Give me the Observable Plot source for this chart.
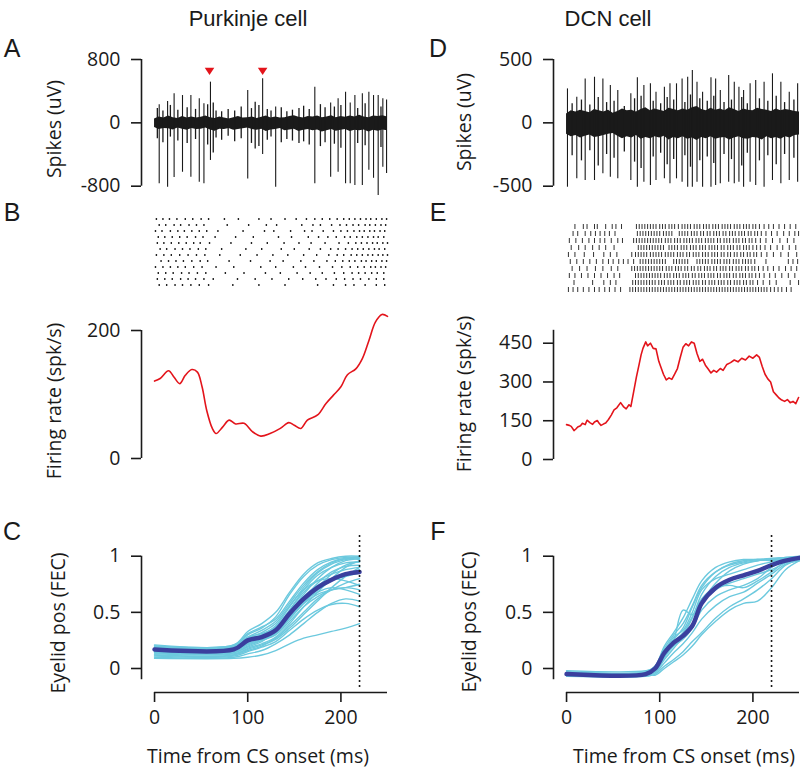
<!DOCTYPE html>
<html><head><meta charset="utf-8">
<script src="https://cdn.jsdelivr.net/npm/d3@7"></script>
<script src="https://cdn.jsdelivr.net/npm/@observablehq/plot@0.6"></script>
<style>
html,body{margin:0;padding:0;background:#fff;}
#fig{position:relative;width:800px;height:768px;overflow:hidden;font-family:"Open Sans",sans-serif;color:#1a1a1a;}
.lbl{position:absolute;font-size:19.5px;white-space:nowrap;transform:translate(-50%,-50%);}
.rot{transform:translate(-50%,-50%) rotate(-90deg);}
.title{position:absolute;font-family:"Liberation Sans",Arial,sans-serif;font-size:22px;white-space:nowrap;transform:translate(-50%,-50%);}
.letter{position:absolute;font-family:"Liberation Sans",Arial,sans-serif;font-size:25px;transform:translate(-50%,-50%);}
</style></head>
<body>
<div id="fig">
  <div class="title" style="left:248px;top:19px">Purkinje cell</div>
  <div class="title" style="left:608px;top:19px">DCN cell</div>
  <div class="letter" style="left:12px;top:48px">A</div>
  <div class="letter" style="left:12px;top:212px">B</div>
  <div class="letter" style="left:12px;top:531px">C</div>
  <div class="letter" style="left:438px;top:48px">D</div>
  <div class="letter" style="left:438px;top:212px">E</div>
  <div class="letter" style="left:438px;top:531px">F</div>
  <div class="lbl rot" style="left:53px;top:129px">Spikes (uV)</div>
  <div class="lbl rot" style="left:463px;top:122px">Spikes (uV)</div>
  <div class="lbl rot" style="left:53px;top:401px">Firing rate (spk/s)</div>
  <div class="lbl rot" style="left:463px;top:394px">Firing rate (spk/s)</div>
  <div class="lbl rot" style="left:57px;top:623px">Eyelid pos (FEC)</div>
  <div class="lbl rot" style="left:468px;top:622px">Eyelid pos (FEC)</div>
  <div class="lbl" style="left:258px;top:755px">Time from CS onset (ms)</div>
  <div class="lbl" style="left:684px;top:755px">Time from CS onset (ms)</div>
</div>
<script>
// ---------------- DATA ----------------
// Panel A: Purkinje raw trace (noise envelope + small deflections + spikes), uV
const noiseT = [0,5,10,15,20,25,30,35,40,45,50,55,60,65,70,75,80,85,90,95,100,105,110,115,120,125,130,135,140,145,150,155,160,165,170,175,180,185,190,195,200,205,210,215,220,225,230,235,240,245,250];
const noiseA_hi = [50,75,60,85,65,55,80,60,75,60,70,85,65,55,75,60,50,65,80,60,65,75,55,70,85,60,75,60,65,80,90,70,60,80,75,85,65,75,90,65,80,70,85,75,95,75,65,85,80,90,75];
const noiseA_lo = [-60,-85,-70,-75,-90,-65,-80,-95,-70,-85,-80,-65,-90,-105,-80,-85,-70,-95,-85,-75,-65,-85,-95,-80,-110,-90,-85,-70,-100,-90,-80,-110,-95,-85,-100,-90,-115,-100,-85,-105,-95,-85,-110,-95,-100,-90,-115,-95,-105,-90,-100];
const smlA_t  = [3,9,17,25,35,44,57,63,66,72,79,86,93,104,108,112,121,125,136,142,148,155,160,166,178,183,193,200,218,226,243];
const smlA_hi = [180,150,220,160,190,170,230,250,150,140,170,150,200,180,260,220,170,150,190,140,160,180,210,170,230,190,200,220,180,240,200];
const smlA_lo = [-200,-250,-180,-230,-260,-210,-280,-380,-190,-220,-170,-240,-200,-260,-330,-300,-220,-180,-250,-210,-230,-260,-240,-280,-300,-250,-270,-320,-260,-290,-310];
const spkA_t  = [5,14,21,30,39,48,53,60,100,116,130,172,189,197,205,210,215,223,230,235,240,245,249];
const spkA_hi = [230,270,366,345,345,303,240,514,408,556,200,450,250,303,387,250,345,366,387,345,345,303,290];
const spkA_lo = [-770,-812,-690,-624,-686,-750,-770,-475,-708,-400,-812,-770,-686,-624,-770,-770,-792,-792,-600,-700,-918,-560,-640];
const csA_t = [59,116];
const csA_y = [650,650];

// Panel D: DCN raw trace
const noiseD_hi = [70,95,85,100,90,80,105,95,85,100,75,90,110,95,100,85,105,120,95,110,100,90,115,105,95,110,100,120,130,105,95,115,100,110,95,120,105,90,110,100,95,115,105,100,90,110,95,105,100,90,85];
const noiseD_lo = [-90,-110,-100,-120,-105,-95,-115,-110,-100,-90,-85,-105,-125,-110,-120,-100,-130,-115,-125,-110,-120,-105,-135,-115,-125,-110,-130,-120,-140,-115,-125,-110,-130,-120,-115,-135,-120,-110,-125,-130,-115,-120,-135,-110,-125,-115,-130,-110,-120,-100,-95];
const smlD_t  = [6,16,25,34,43,51,62,73,80,93,101,108,115,127,133,143,151,158,169,177,188,194,207,216,225,234,244];
const smlD_hi = [150,180,140,200,160,170,130,190,210,170,150,200,180,160,220,190,170,210,160,180,200,150,190,170,210,160,180];
const smlD_lo = [-260,-300,-220,-340,-250,-280,-230,-310,-360,-270,-240,-330,-290,-260,-350,-300,-270,-320,-250,-290,-340,-240,-300,-260,-330,-250,-280];
const spkD_t  = [1,11,20,30,39,47,55,69,76,83,90,96,105,111,118,124,130,135,140,146,155,160,165,174,180,185,190,197,203,212,221,230,239,248];
const spkD_hi = [268,203,347,360,347,295,255,229,355,295,308,242,281,308,308,347,360,413,321,242,355,347,255,373,321,281,255,308,334,321,387,321,242,308];
const spkD_lo = [-508,-442,-455,-455,-402,-429,-442,-455,-508,-468,-494,-455,-442,-481,-442,-468,-508,-508,-468,-508,-508,-494,-481,-468,-481,-468,-508,-468,-494,-508,-455,-481,-455,-468];

// Panel B: Purkinje raster (spike times, ms) per trial
const trialsB = [
  [2,9,16,24,33,41,50,58,75,90,112,125,140,152,163,172,180,188,196,203,209,215,221,227,232,238,244,249],
  [5,12,21,28,37,45,53,78,101,120,131,158,170,178,190,199,206,213,219,226,231,237,243,248],
  [1,8,17,25,32,40,48,56,68,95,118,128,146,161,169,181,192,200,207,214,220,225,231,236,242,247],
  [4,11,19,27,35,44,52,65,87,106,133,147,165,176,186,195,204,210,217,223,229,235,240,246],
  [3,10,18,26,34,42,49,59,82,104,121,139,155,168,183,198,208,216,222,228,234,239,245,250],
  [6,13,22,30,38,47,55,72,98,115,136,150,166,178,189,197,205,212,218,224,230,236,241,247],
  [2,10,18,27,36,45,54,70,92,110,127,143,160,174,187,196,203,211,217,223,229,234,240,245,250],
  [7,15,23,31,40,49,57,80,103,124,138,157,171,185,194,202,209,215,222,227,233,238,244,249],
  [1,9,17,25,33,42,51,66,85,114,130,149,162,177,191,201,210,218,225,232,237,243,248],
  [4,12,20,29,37,46,55,76,96,119,135,153,167,180,193,203,212,219,226,233,239,246],
  [3,11,19,28,36,44,53,63,89,108,126,144,159,173,184,195,204,213,221,230,238,246],
  [5,13,22,30,39,48,58,84,112,140,175,192,205,214,226,238,247]
];

// Panel E: DCN raster (spike times, ms) per trial
const trialsE = [
  [9,18,22,30,33,42,49,53,59,75,78,81,84,87,90,93,96,100,103,106,110,113,116,120,124,127,130,133,137,140,143,147,150,153,157,160,163,167,170,173,176,180,183,186,190,193,196,200,203,207,212,217,222,228,234,240,246],
  [7,12,20,26,31,36,41,46,52,76,79,82,85,88,91,94,97,100,104,107,110,113,121,124,127,130,134,137,140,144,147,151,154,158,161,164,168,171,175,178,181,185,188,191,195,198,202,205,209,214,220,226,233,239,245,249],
  [3,10,17,24,30,36,41,48,55,60,72,75,78,81,84,87,90,93,96,99,102,106,109,112,116,119,122,126,129,132,135,139,142,145,149,152,155,158,162,165,169,172,175,179,182,185,189,192,196,199,203,208,214,221,229,237,244],
  [5,13,20,28,35,42,51,77,80,83,86,89,92,95,98,101,104,110,113,116,119,123,126,129,133,136,139,143,146,149,153,156,159,162,166,169,173,176,179,183,186,190,193,196,200,204,208,213,219,226,232,239,246],
  [2,9,19,29,40,47,54,70,74,77,80,83,86,90,93,96,99,102,106,109,112,115,119,122,125,129,132,136,139,142,146,149,152,156,159,162,166,169,173,176,180,183,187,190,194,197,201,204,209,215,222,230,238,247],
  [4,11,18,25,32,39,45,50,56,61,66,72,79,82,85,88,91,94,97,100,103,106,115,118,121,124,127,130,140,143,146,149,152,156,159,162,165,169,172,175,179,182,185,189,192,195,198,202,214,238,243,248],
  [6,14,22,31,39,48,55,70,73,76,79,82,85,88,91,94,97,100,103,107,110,113,117,120,123,127,130,134,137,141,144,148,151,154,158,161,165,168,171,175,178,182,185,188,192,195,199,202,206,211,216,222,228,235,241,247],
  [3,9,16,23,30,37,44,51,57,74,77,80,83,86,89,92,95,98,101,105,108,111,115,118,121,125,128,131,135,138,142,145,148,152,155,158,162,165,169,172,175,179,182,186,189,192,196,199,203,207,212,218,224,231,238,245],
  [8,28,40,47,53,71,74,77,80,83,86,89,92,95,99,102,105,109,112,115,119,122,126,129,132,136,139,142,146,149,153,156,159,163,166,169,173,176,180,183,186,190,193,197,200,205,211,218,225,240,249],
  [2,7,12,18,24,30,35,41,46,52,58,68,71,74,77,80,83,86,89,92,95,98,101,104,107,110,113,116,119,122,125,128,131,134,137,140,143,146,149,152,155,158,161,164,167,170,173,176,179,182,185,188,191,194,197,200,203,206,209,212,215,219,223,227,231,236,241]
];

// Firing rates (spk/s)
const rateP_t = [0,6,15,21,27,33,40,46,51,56,62,66,73,80,87,96,105,114,124,135,144,150,157,164,175,184,192,200,207,216,223,230,237,244,250];
const rateP_v = [121,125,137,127,117,130,139,135,112,75,47,39,49,60,54,55,42,35,39,47,56,52,47,60,68,86,99,112,131,140,156,184,213,225,222];
const rateD_t = [0,3,5,8,10,12,15,17,20,22,25,28,30,33,35,37,40,42,45,48,51,54,58,61,64,67,69,72,75,78,80,82,85,87,90,93,96,99,101,104,107,110,113,116,119,122,125,128,131,134,137,140,143,146,149,152,155,158,161,165,168,172,176,180,184,188,192,196,200,204,207,210,213,216,219,222,225,228,231,234,237,240,243,246,249];
const rateD_v = [135,132,128,112,118,126,131,140,135,152,143,136,145,151,140,132,138,141,155,172,192,200,220,205,196,212,205,262,320,370,405,430,455,440,450,430,428,380,360,330,308,316,310,330,352,395,434,448,440,455,450,410,380,388,365,350,335,345,338,352,345,368,375,385,378,392,385,400,392,405,395,360,330,312,300,262,250,238,230,225,232,220,225,216,240];

// Eyelid traces (FEC)
const eyeC_t = [0,85,100,115,130,145,160,175,190,205,220];
const eyeC_mean = [0.17,0.17,0.25,0.28,0.34,0.49,0.62,0.72,0.79,0.84,0.86];
const eyeC_trials = [
  [0.17,0.17,0.26,0.30,0.38,0.55,0.72,0.85,0.93,0.97,0.99],
  [0.15,0.16,0.24,0.29,0.35,0.50,0.66,0.80,0.90,0.96,0.98],
  [0.19,0.20,0.30,0.36,0.46,0.66,0.82,0.92,0.97,0.99,0.99],
  [0.12,0.12,0.18,0.22,0.28,0.40,0.55,0.68,0.80,0.90,0.96],
  [0.20,0.20,0.28,0.31,0.37,0.52,0.68,0.78,0.84,0.88,0.90],
  [0.16,0.16,0.22,0.26,0.32,0.45,0.58,0.70,0.78,0.82,0.85],
  [0.14,0.14,0.20,0.25,0.30,0.42,0.55,0.64,0.70,0.72,0.70],
  [0.18,0.18,0.26,0.30,0.36,0.48,0.60,0.68,0.72,0.70,0.66],
  [0.10,0.10,0.13,0.16,0.22,0.30,0.40,0.50,0.58,0.62,0.60],
  [0.09,0.09,0.10,0.12,0.16,0.22,0.27,0.30,0.33,0.36,0.40],
  [0.21,0.21,0.33,0.40,0.50,0.68,0.84,0.94,0.98,1.00,1.00],
  [0.17,0.17,0.22,0.27,0.36,0.52,0.70,0.83,0.90,0.94,0.95],
  [0.13,0.13,0.17,0.21,0.26,0.36,0.48,0.60,0.72,0.82,0.90],
  [0.18,0.19,0.27,0.32,0.40,0.56,0.70,0.78,0.80,0.78,0.74],
  [0.15,0.15,0.21,0.25,0.31,0.44,0.58,0.72,0.84,0.92,0.95],
  [0.11,0.11,0.15,0.19,0.24,0.34,0.44,0.52,0.57,0.58,0.55],
  [0.20,0.21,0.31,0.37,0.44,0.60,0.76,0.88,0.95,0.98,0.97],
  [0.16,0.16,0.23,0.28,0.34,0.47,0.62,0.76,0.86,0.91,0.92],
  [0.14,0.14,0.19,0.24,0.33,0.50,0.64,0.74,0.80,0.84,0.88],
  [0.19,0.19,0.25,0.29,0.35,0.46,0.58,0.66,0.70,0.72,0.75],
  [0.12,0.12,0.16,0.20,0.27,0.38,0.50,0.62,0.70,0.76,0.80],
  [0.17,0.18,0.28,0.34,0.42,0.58,0.74,0.86,0.94,0.98,0.99]
];
const eyeF_t = [0,85,95,105,115,125,135,145,160,175,190,205,220,235,250];
const eyeF_mean = [-0.05,-0.05,0.0,0.14,0.23,0.29,0.38,0.58,0.72,0.79,0.83,0.87,0.92,0.96,0.985];
const eyeF_trials = [
  [-0.03,-0.03,0.02,0.20,0.32,0.45,0.62,0.78,0.90,0.95,0.97,0.97,0.96,0.97,0.98],
  [-0.05,-0.04,0.01,0.16,0.26,0.36,0.55,0.72,0.86,0.93,0.96,0.97,0.97,0.98,0.99],
  [-0.06,-0.06,-0.02,0.10,0.25,0.52,0.48,0.60,0.76,0.87,0.93,0.96,0.97,0.99,0.99],
  [-0.04,-0.04,0.00,0.12,0.22,0.30,0.45,0.66,0.82,0.90,0.94,0.96,0.98,0.99,1.0],
  [-0.07,-0.07,-0.05,0.02,0.08,0.15,0.24,0.32,0.45,0.55,0.62,0.70,0.80,0.92,0.97],
  [-0.05,-0.05,-0.06,0.00,0.06,0.12,0.20,0.30,0.42,0.52,0.58,0.60,0.72,0.88,0.96],
  [-0.02,-0.02,0.01,0.15,0.28,0.34,0.50,0.70,0.80,0.84,0.88,0.92,0.95,0.98,0.99],
  [-0.06,-0.06,-0.03,0.08,0.18,0.28,0.40,0.58,0.70,0.76,0.80,0.84,0.88,0.94,0.98],
  [-0.04,-0.04,0.00,0.13,0.24,0.32,0.46,0.62,0.72,0.74,0.72,0.78,0.86,0.95,0.98],
  [-0.05,-0.05,-0.01,0.10,0.20,0.26,0.36,0.52,0.64,0.70,0.74,0.80,0.90,0.97,0.99],
  [-0.03,-0.03,0.02,0.18,0.30,0.40,0.56,0.74,0.86,0.92,0.95,0.97,0.98,0.98,0.97],
  [-0.06,-0.06,-0.04,0.05,0.14,0.22,0.32,0.44,0.56,0.64,0.68,0.76,0.84,0.93,0.96]
];
const csTime = [220];

// Tick labels
const ticksTime = [0,100,200];
const ticksSpkA = [-800,0,800];
const ticksSpkD = [-500,0,500];
const ticksRateP = [0,200];
const ticksRateD = [0,150,300,450];
const ticksEye = [0,0.5,1];

// ---------------- DRAWING ----------------
const fig = document.getElementById("fig");
const INK = "#1a1a1a", RED = "#e3141b", LIGHT = "#6cc9de", DARK = "#3a3f9e";
const FS = 19.5;
const style = {fontFamily: '"Open Sans", sans-serif', fontSize: FS + "px", color: INK, background: "transparent", overflow: "visible"};
const cols = {L: {left: 0, ml: 141, mr: 13}, R: {left: 400, ml: 153, mr: 1}};
const xDom = [-14, 250];

function place(node, left, top) {
  node.style.position = "absolute";
  node.style.left = left + "px";
  node.style.top = top + "px";
  fig.appendChild(node);
}
function yAxis(ticks, lo, hi) {
  return [
    Plot.ruleX([xDom[0]], {y1: lo, y2: hi, stroke: INK, strokeWidth: 1.6}),
    Plot.axisY(ticks, {anchor: "left", tickSize: 10, tickPadding: 11, tickFormat: d => String(d), stroke: INK, strokeWidth: 1.6, fontSize: FS, label: null})
  ];
}
const downTri = {draw(ctx, size) { const r = Math.sqrt(size / Math.PI); ctx.moveTo(-r, -0.75 * r); ctx.lineTo(r, -0.75 * r); ctx.lineTo(0, 0.75 * r); ctx.closePath(); }};

// Spike trace panels
function spikePanel(c, hiN, loN, st, sh, sl, ts, his, los, yd, ticks, cs) {
  const noise = noiseT.map((t, i) => ({t, hi: hiN[i], lo: loN[i]}));
  const small = st.map((t, i) => ({t, hi: sh[i], lo: sl[i]}));
  const spikes = ts.map((t, i) => ({t, hi: his[i], lo: los[i]}));
  const marks = [
    Plot.areaY(noise, {x: "t", y1: "lo", y2: "hi", fill: INK}),
    Plot.ruleX(small, {x: "t", y1: "lo", y2: "hi", stroke: INK, strokeWidth: 1.3}),
    Plot.ruleX(spikes, {x: "t", y1: "lo", y2: "hi", stroke: INK, strokeWidth: 1.1}),
    ...yAxis(ticks, yd[0], yd[1])
  ];
  if (cs) marks.push(Plot.dot(cs, {x: "t", y: "y", symbol: downTri, r: 4.8, fill: RED, stroke: null}));
  place(Plot.plot({width: 400, height: 160, marginLeft: c.ml, marginRight: c.mr, marginTop: 19, marginBottom: 14.3,
    x: {domain: xDom, axis: null}, y: {domain: yd}, style, marks}), c.left, 40);
}
spikePanel(cols.L, noiseA_hi, noiseA_lo, smlA_t, smlA_hi, smlA_lo, spkA_t, spkA_hi, spkA_lo, [-800, 800], ticksSpkA, csA_t.map((t, i) => ({t, y: csA_y[i]})));
spikePanel(cols.R, noiseD_hi, noiseD_lo, smlD_t, smlD_hi, smlD_lo, spkD_t, spkD_hi, spkD_lo, [-500, 500], ticksSpkD, null);

// Rasters
function rasterPanel(c, trials, mt, mb, pad, sw, color) {
  const data = trials.flatMap((ts, i) => ts.map(t => ({trial: i, t})));
  place(Plot.plot({width: 400, height: 100, marginLeft: c.ml, marginRight: c.mr, marginTop: mt, marginBottom: mb,
    x: {domain: xDom, axis: null}, y: {type: "band", domain: trials.map((_, i) => i), padding: pad, axis: null}, style,
    marks: [Plot.tickX(data, {x: "t", y: "trial", stroke: color, strokeWidth: sw})]}), c.left, 200);
}
rasterPanel(cols.L, trialsB, 12.7, 8.3, 0.6, 1.4, "#222");
rasterPanel(cols.R, trialsE, 21, 4.2, 0.3, 1.0, "#333");

// Firing rate
function ratePanel(c, ts, vs, yd, ticks, mt, mb, curve) {
  const data = ts.map((t, i) => ({t, v: vs[i]}));
  place(Plot.plot({width: 400, height: 180, marginLeft: c.ml, marginRight: c.mr, marginTop: mt, marginBottom: mb,
    x: {domain: xDom, axis: null}, y: {domain: yd}, style,
    marks: [
      ...yAxis(ticks, yd[0], yd[1]),
      Plot.line(data, {x: "t", y: "v", stroke: RED, strokeWidth: 1.6, curve})
    ]}), c.left, 300);
}
ratePanel(cols.L, rateP_t, rateP_v, [0, 200], ticksRateP, 30, 22, "catmull-rom");
ratePanel(cols.R, rateD_t, rateD_v, [0, 500], ticksRateD, 29.8, 21, "linear");

// Eyelid
const yBot = -0.2137;
function eyePanel(c, ts, trials, mean) {
  const tr = trials.flatMap((vs, k) => vs.map((v, i) => ({id: k, t: ts[i], v})));
  const mn = mean.map((v, i) => ({t: ts[i], v}));
  place(Plot.plot({width: 400, height: 248, marginLeft: c.ml, marginRight: c.mr, marginTop: 35.7, marginBottom: 76,
    x: {domain: xDom}, y: {domain: [yBot, 1]}, style,
    marks: [
      Plot.ruleY([yBot], {x1: 0, x2: 250, stroke: INK, strokeWidth: 1.6}),
      Plot.axisX(ticksTime, {anchor: "bottom", tickSize: 10, tickPadding: 8, stroke: INK, strokeWidth: 1.6, fontSize: FS, label: null}),
      ...yAxis(ticksEye, -0.1, 1),
      Plot.line(tr, {x: "t", y: "v", z: "id", stroke: LIGHT, strokeWidth: 1.4, curve: "catmull-rom"}),
      Plot.line(mn, {x: "t", y: "v", stroke: DARK, strokeWidth: 4.5, curve: "catmull-rom"}),
      Plot.ruleX(csTime, {y1: -0.17, y2: 1.2, stroke: INK, strokeWidth: 1.6, strokeDasharray: "2,3"})
    ]}), c.left, 520);
}
eyePanel(cols.L, eyeC_t, eyeC_trials, eyeC_mean);
eyePanel(cols.R, eyeF_t, eyeF_trials, eyeF_mean);
</script>
</body></html>
